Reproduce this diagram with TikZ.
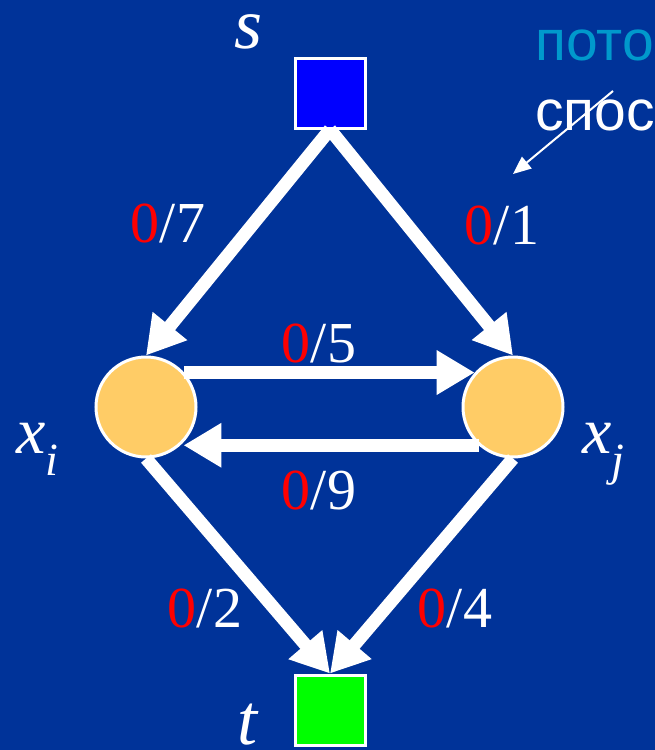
\documentclass[tikz,border=0pt]{standalone}
\usepackage{fontspec}
\setmainfont{Liberation Serif}
\newfontfamily\sansru{Liberation Sans}
\usepackage{xcolor}
\usetikzlibrary{arrows.meta, positioning}

\definecolor{slidebg}{RGB}{0,51,153}
\definecolor{vtxfill}{RGB}{255,204,102}
\definecolor{srcblue}{RGB}{0,0,255}
\definecolor{sinkgreen}{RGB}{0,255,0}
\definecolor{flowcyan}{RGB}{0,153,204}

\newcommand{\flowcap}[2]{\textcolor{red}{#1}/#2}

\tikzset{
    srcbox/.style={draw=white, line width=3pt, fill=srcblue, minimum size=70pt, inner sep=0pt},
    sinkbox/.style={srcbox, fill=sinkgreen},
    vertex/.style={circle, draw=white, line width=3pt, fill=vtxfill, minimum size=100pt, inner sep=0pt},
    edgearrow/.style={white, line width=13pt, -{Triangle[length=38pt,width=42pt]}},
    flowlbl/.style={white, inner sep=0pt, font=\fontsize{58}{60}\selectfont},
    namelbl/.style={white, inner sep=0pt, font=\fontsize{72}{74}\selectfont\itshape},
    vtxlbl/.style={white, inner sep=0pt, anchor=base west, font=\fontsize{66}{70}\selectfont\itshape}
}

\begin{document}
\begin{tikzpicture}[x=1pt, y=-1pt]
    % Background
    \useasboundingbox (0,0) rectangle (655,750);
    \fill[slidebg] (0,0) rectangle (655,750);

    % Source, sink and inner vertices
    \node[srcbox] (s) at (330,93) {};
    \node[sinkbox] (t) at (330,710) {};
    \node[vertex] (xi) at (146,407) {};
    \node[vertex] (xj) at (513,407) {};

    % Names
    \node[namelbl] (slbl) at (249,32) {s};
    \node[namelbl] (tlbl) at (247,725) {t};
    \node[vtxlbl] (xilbl) at (16,453) {x\textsubscript{i}};
    \node[vtxlbl] (xjlbl) at (582,453) {x\textsubscript{j}};

    % Edges
    \draw[edgearrow] (s.south) -- (xi.north);
    \draw[edgearrow] (s.south) -- (xj.north);
    \draw[edgearrow] (xi.42) -- (xj.138);
    \draw[edgearrow] (xj.-132) -- ([xshift=3pt]xi.-48);
    \draw[edgearrow] (xi.south) -- (t.north);
    \draw[edgearrow] (xj.south) -- (t.north);

    % Flow / capacity labels
    \node[flowlbl] (f1) at (168,223) {\flowcap{0}{7}};
    \node[flowlbl] (f2) at (502,225) {\flowcap{0}{1}};
    \node[flowlbl] (f3) at (319,343) {\flowcap{0}{5}};
    \node[flowlbl] (f4) at (319,490) {\flowcap{0}{9}};
    \node[flowlbl] (f5) at (205,608) {\flowcap{0}{2}};
    \node[flowlbl] (f6) at (455,608) {\flowcap{0}{4}};

    % Legend
    \node[anchor=base west, inner sep=0pt, text=flowcyan, font=\sansru\fontsize{57}{59}\selectfont] (leg1) at (535,60) {пото};
    \node[anchor=base west, inner sep=0pt, text=white, font=\sansru\fontsize{57}{59}\selectfont] (leg2) at (535,130) {спос};
    \coordinate (ptrtail) at (613,91);
    \coordinate (ptrtip) at (513,174);
    \draw[white, line width=2pt, -{Triangle[length=18pt,width=15pt]}] (ptrtail) -- (ptrtip);
\end{tikzpicture}
\end{document}
